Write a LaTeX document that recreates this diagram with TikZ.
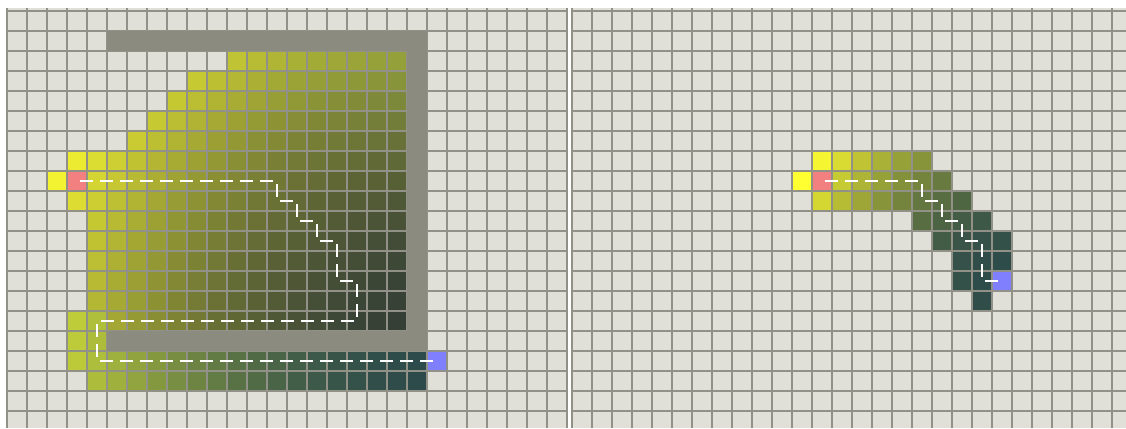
\documentclass[tikz,border=0pt]{standalone}
\definecolor{bgcell}{RGB}{224,223,216}
\definecolor{gridc}{RGB}{146,145,135}
\definecolor{wallc}{RGB}{139,139,127}
\definecolor{startc}{RGB}{242,128,128}
\definecolor{goalc}{RGB}{128,128,255}
\tikzset{
  gridline/.style={draw=gridc, line width=1.7pt},
  wall/.style={fill=wallc},
  pathshadow/.style={draw=black, line width=1.8pt, dash pattern=on 13pt off 7pt, dash phase=17pt, shift={(-1.0,1.1)}},
  pathline/.style={draw=white, line width=1.2pt, dash pattern=on 13pt off 7pt, dash phase=17pt},
}
% colour of a cell: #1 = t (closeness to goal), #2 = s (teal share)
\newcommand\mkcellcolor[2]{%
  \pgfmathtruncatemacro\cR{max(0,min(255,(1-#2)*(228-178*#1)+#2*(225-180*#1)))}%
  \pgfmathtruncatemacro\cG{max(0,min(255,(1-#2)*(228-168*#1)+#2*(235-160*#1)))}%
  \pgfmathtruncatemacro\cB{max(0,min(255,(1-#2)*(50+5*#1)+#2*(54+21*#1)))}%
  \definecolor{cc}{RGB}{\cR,\cG,\cB}}
\begin{document}
\begin{tikzpicture}[x=1pt,y=-1pt]
\useasboundingbox (0,0) rectangle (1126,428);
\fill[white] (0,0) rectangle (1126,428);

% ---------------- left panel ----------------
\begin{scope}
\clip (6,8) rectangle (568,428);
\fill[bgcell] (7,8) rectangle (567,428);
\foreach \r/\a/\b in {2/11/19,3/9/19,4/8/19,5/7/19,6/6/19,7/3/19,8/2/19,9/3/19,
  10/4/19,11/4/19,12/4/19,13/4/19,14/4/19,15/3/19,16/3/4,17/3/20,18/4/20}{
  \foreach \c in {\a,...,\b}{
    \pgfmathsetmacro\tt{1-((\c-21)^2+(\r-17)^2)/405}
    \pgfmathsetmacro\ss{max(or(\r>16,and(\r>14,\c<5)), 0.6*max(0,(\c-10)/9)*max(0,(8-\r)/6))}
    \mkcellcolor{\tt}{\ss}
    \fill[cc] (7+20*\c,11+20*\r) rectangle ++(20,20);
  }
}
\fill[startc] (67,171) rectangle ++(20,20);
\fill[goalc] (427,351) rectangle ++(20,20);
\foreach \k in {0,...,28} \draw[gridline] (7+20*\k,8) -- (7+20*\k,428);
\foreach \k in {0,...,20} \draw[gridline] (7,11+20*\k) -- (567,11+20*\k);
\fill[wall] (107,31) rectangle (427,51);
\fill[wall] (407,31) rectangle (427,351);
\fill[wall] (107,331) rectangle (427,351);
\end{scope}

% ---------------- right panel ----------------
\begin{scope}
\clip (571,8) rectangle (1126,428);
\fill[bgcell] (572,8) rectangle (1126,428);
\foreach \r/\a/\b in {7/12/17,8/11/18,9/12/19,10/17/20,11/18/21,12/19/21,13/19/20,14/20/20}{
  \foreach \c in {\a,...,\b}{
    \pgfmathsetmacro\tt{1-((\c-21)^2+(\r-13)^2)/106}
    \pgfmathsetmacro\ss{max(0,\tt)}
    \mkcellcolor{\tt}{\ss}
    \fill[cc] (572+20*\c,11+20*\r) rectangle ++(20,20);
  }
}
\fill[startc] (812,171) rectangle ++(20,20);
\fill[goalc] (992,271) rectangle ++(20,20);
\foreach \k in {0,...,27} \draw[gridline] (572+20*\k,8) -- (572+20*\k,428);
\foreach \k in {0,...,20} \draw[gridline] (572,11+20*\k) -- (1126,11+20*\k);
\end{scope}

% ---------------- paths ----------------
\coordinate (LS) at (77,181);
\coordinate (L1) at (277,181);
\coordinate (L2) at (277,201);
\coordinate (L3) at (297,201);
\coordinate (L4) at (297,221);
\coordinate (L5) at (317,221);
\coordinate (L6) at (317,241);
\coordinate (L7) at (337,241);
\coordinate (L8) at (337,281);
\coordinate (L9) at (357,281);
\coordinate (L10) at (357,321);
\coordinate (L11) at (97,321);
\coordinate (L12) at (97,361);
\coordinate (LG) at (437,361);
\coordinate (RS) at (822,181);
\coordinate (R1) at (922,181);
\coordinate (R2) at (922,201);
\coordinate (R3) at (942,201);
\coordinate (R4) at (942,221);
\coordinate (R5) at (962,221);
\coordinate (R6) at (962,241);
\coordinate (R7) at (982,241);
\coordinate (R8) at (982,281);
\coordinate (RG) at (1002,281);
\foreach \st in {pathshadow,pathline}{
  \draw[\st] (LS) -- (L1) -- (L2) -- (L3) -- (L4) -- (L5) -- (L6) -- (L7) -- (L8)
    -- (L9) -- (L10) -- (L11) -- (L12) -- (LG);
  \draw[\st] (RS) -- (R1) -- (R2) -- (R3) -- (R4) -- (R5) -- (R6) -- (R7) -- (R8) -- (RG);
}
\end{tikzpicture}
\end{document}
